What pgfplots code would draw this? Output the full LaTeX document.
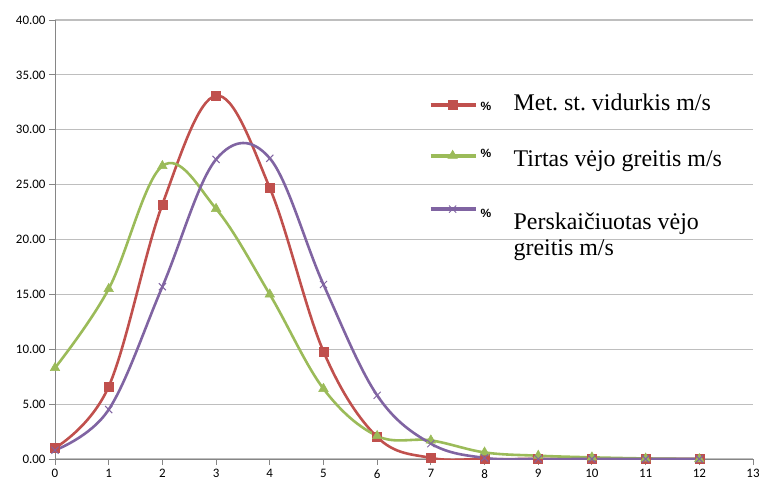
\documentclass[border=0pt]{standalone}
\usepackage{fontspec}
\setmainfont{Liberation Serif}
\newfontfamily\tickfont{Carlito}
\newfontfamily\pctfont{Liberation Sans}
\usepackage{pgfplots}
\pgfplotsset{compat=1.18}
\frenchspacing

\definecolor{serRed}{HTML}{C0504D}
\definecolor{serGreen}{HTML}{9BBB59}
\definecolor{serPurple}{HTML}{8064A2}
\definecolor{axisGray}{RGB}{134,134,134}
\definecolor{gridGray}{RGB}{190,190,190}

% small percent sign that follows each legend line
\newcommand\pct{\makebox[34bp][l]{\hspace{1bp}\raisebox{0bp}{\pctfont\fontsize{12}{12}\selectfont\bfseries\%}}}

\begin{document}
\begin{tikzpicture}
\useasboundingbox (-55bp,-24bp) rectangle (706bp,459bp);
\begin{axis}[
  scale only axis,
  width=698bp, height=439bp,
  xmin=0, xmax=13, ymin=0, ymax=40,
  xtick={0,...,13}, ytick={0,5,...,40},
  axis x line=bottom, axis y line=left,
  axis line style={draw=axisGray, line width=0.9bp, -},
  tick style={draw=axisGray, line width=0.9bp},
  tick align=outside, major tick length=6bp,
  ymajorgrids, grid style={draw=gridGray, line width=1.1bp},
  ticklabel style={font=\tickfont\fontsize{13}{13}\selectfont, text=black},
  /pgf/number format/assume math mode=true,
  yticklabel style={/pgf/number format/.cd, fixed, fixed zerofill, precision=2},
  xticklabel style={yshift=-1bp},
  every axis plot/.append style={line width=2.6bp, smooth, tension=0.6},
  legend style={at={(0.535,0.837)}, anchor=north west, draw=none, fill=none,
    font=\fontsize{24}{26}\selectfont, row sep=33bp, inner sep=0pt,
    cells={anchor=west}},
  legend cell align=left,
  legend image code/.code={%
    \draw[mark repeat=2, mark phase=2, #1, line width=4bp]
      plot coordinates {(0bp,-2bp) (22bp,-2bp) (45bp,-2bp)};},
]
% annual station mean
\addplot[color=serRed, mark=square*, mark size=4.5bp,
  mark options={line width=0.5bp, fill=serRed}] coordinates {
  (0,1.0) (1,6.6) (2,23.2) (3,33.1) (4,24.7) (5,9.8) (6,2.0)
  (7,0.1) (8,0.0) (9,0.0) (10,0.0) (11,0.0) (12,0.0)};
\addlegendentry{\pct Met. st. vidurkis m/s}
% measured wind speed
\addplot[color=serGreen, mark=triangle*, mark size=5.5bp,
  mark options={line width=0.5bp, fill=serGreen}] coordinates {
  (0,8.3) (1,15.5) (2,26.7) (3,22.8) (4,15.0) (5,6.4) (6,2.1)
  (7,1.7) (8,0.6) (9,0.3) (10,0.15) (11,0.05) (12,0.0)};
\addlegendentry{\pct\raisebox{-9.5bp}{Tirtas vėjo greitis m/s}}
% calculated wind speed
\addplot[color=serPurple, mark=x, mark size=5bp,
  mark options={line width=1bp}] coordinates {
  (0,0.8) (1,4.5) (2,15.7) (3,27.3) (4,27.4) (5,15.9) (6,5.8)
  (7,1.4) (8,0.1) (9,0.0) (10,0.0) (11,0.0) (12,0.0)};
\addlegendentry{\rule{0pt}{21.5bp}\pct\raisebox{-12.5bp}{\begin{tabular}[t]{@{}l@{}}Perskaičiuotas vėjo\\greitis m/s\end{tabular}}}
\end{axis}
\end{tikzpicture}
\end{document}
